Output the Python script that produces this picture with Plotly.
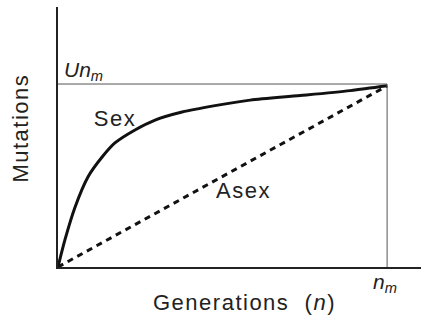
import plotly.graph_objects as go

# generations, as fraction of n_m
sex_n = [0.0, 0.021, 0.052, 0.091, 0.134, 0.173, 0.234, 0.295, 0.377, 0.477, 0.584, 0.736, 0.888, 1.0]
# mutations, as fraction of U*n_m
sex_mut = [0.0, 0.148, 0.328, 0.492, 0.601, 0.678, 0.749, 0.803, 0.847, 0.882, 0.912, 0.937, 0.964, 0.99]

asex_n = [0.0, 1.0]
asex_mut = [0.0, 0.99]

n_m = 1.0
un_m = 1.0

FONT = "Liberation Sans, Arial, sans-serif"

fig = go.Figure()

fig.add_trace(go.Scatter(
    x=sex_n, y=sex_mut, mode="lines",
    line=dict(color="#111111", width=3, shape="spline", smoothing=0.8),
    showlegend=False, hoverinfo="skip",
))
fig.add_trace(go.Scatter(
    x=asex_n, y=asex_mut, mode="lines",
    line=dict(color="#111111", width=3, dash="6px,5px"),
    showlegend=False, hoverinfo="skip",
))

# guide lines at U*n_m and n_m
fig.add_shape(type="line", x0=0, x1=n_m, y0=un_m, y1=un_m,
              line=dict(color="#555555", width=1))
fig.add_shape(type="line", x0=n_m, x1=n_m, y0=0, y1=un_m,
              line=dict(color="#555555", width=1))

# label positions in paper units (plot area is 363 x 260 px)
labels = [
    dict(x=0.011, y=0.755, text="<i>Un</i><sub><i>m</i></sub>", xanchor="left", angle=0, size=21),
    dict(x=0.157, y=0.573, text="Sex", xanchor="center", angle=0, size=22),
    dict(x=0.512, y=0.296, text="Asex", xanchor="center", angle=0, size=22),
    dict(x=0.901, y=-0.062, text="<i>n</i><sub><i>m</i></sub>", xanchor="center", angle=0, size=21),
    dict(x=0.514, y=-0.138, text="Generations  (<i>n</i>)", xanchor="center", angle=0, size=22),
    dict(x=-0.102, y=0.535, text="Mutations", xanchor="center", angle=-90, size=22),
]
for lab in labels:
    fig.add_annotation(
        x=lab["x"], y=lab["y"], xref="paper", yref="paper",
        text=lab["text"], showarrow=False, textangle=lab["angle"],
        xanchor=lab["xanchor"], yanchor="middle",
        font=dict(family=FONT, size=lab["size"], color="#222222"),
    )

fig.update_layout(
    width=421, height=322,
    margin=dict(l=58, r=0, t=7, b=55),
    paper_bgcolor="white", plot_bgcolor="white",
    xaxis=dict(range=[0, 1.103], showgrid=False, zeroline=False,
               showticklabels=False, ticks="", showline=True,
               linecolor="#222222", linewidth=1.5),
    yaxis=dict(range=[0, 1.421], showgrid=False, zeroline=False,
               showticklabels=False, ticks="", showline=True,
               linecolor="#222222", linewidth=1.5),
)

# the original lettering is slightly tracked out
post = """
document.body.style.margin='0';
document.body.style.overflow='hidden';
[1,2,4,5].forEach(function(i){
  var t=document.querySelector('.annotation[data-index="'+i+'"] .annotation-text');
  if(t){t.style.letterSpacing='1.5px';}
});
"""

fig.write_html("out.html", config={"displayModeBar": False}, post_script=post)
